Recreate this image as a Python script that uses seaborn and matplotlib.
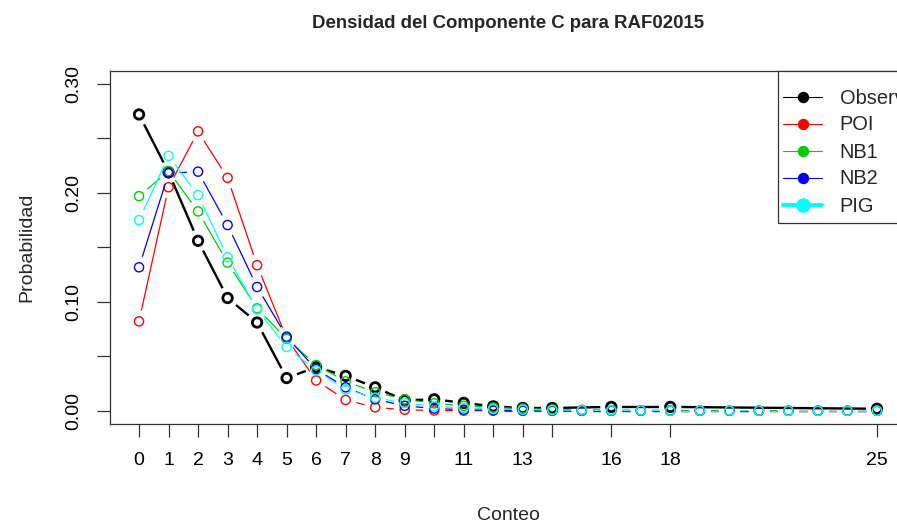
import numpy as np
import pandas as pd
import seaborn as sns
import matplotlib
matplotlib.use("Agg")
import matplotlib.pyplot as plt
from matplotlib.collections import LineCollection
from matplotlib.lines import Line2D
from matplotlib.patches import Rectangle

# Observed counts and their relative frequencies
x_obs = [0, 1, 2, 3, 4, 5, 6, 7, 8, 9, 10, 11, 12, 13, 14, 16, 18, 25]
observado = [0.272, 0.219, 0.156, 0.1035, 0.081, 0.030, 0.040, 0.032, 0.0215,
             0.0095, 0.0105, 0.0072, 0.004, 0.0025, 0.0025, 0.0035, 0.0035, 0.0018]

# Fitted densities for every count 0..25
x_fit = list(range(26))
poi = [0.0821, 0.2052, 0.2565, 0.2138, 0.1336, 0.0668, 0.0278, 0.0099, 0.0031,
       0.0009, 0.0002, 0.0001, 0, 0, 0, 0, 0, 0, 0, 0, 0, 0, 0, 0, 0, 0]
nb1 = [0.197, 0.220, 0.183, 0.136, 0.094, 0.066, 0.042, 0.027, 0.017, 0.0105,
       0.0068, 0.0045, 0.003, 0.002, 0.0013, 0.0009, 0.0006, 0.0004, 0.0003,
       0.0002, 0.0001, 0.0001, 0, 0, 0, 0]
nb2 = [0.1317, 0.218, 0.2195, 0.1705, 0.1136, 0.068, 0.038, 0.0215, 0.0105,
       0.0045, 0.002, 0.001, 0.0005, 0.0002, 0.0001, 0, 0, 0, 0, 0, 0, 0, 0,
       0, 0, 0]
pig = [0.175, 0.234, 0.198, 0.141, 0.093, 0.0585, 0.037, 0.0196, 0.012, 0.007,
       0.004, 0.0025, 0.0015, 0.001, 0.0006, 0.0004, 0.0003, 0.0002, 0.0001,
       0.0001, 0.0001, 0, 0, 0, 0, 0]

# Tick positions on the count axis and the labels that are printed
x_ticks = [0, 1, 2, 3, 4, 5, 6, 7, 8, 9, 10, 11, 12, 13, 14, 16, 18, 25]
x_tick_labels = ["0", "1", "2", "3", "4", "5", "6", "7", "8", "9", "", "11",
                 "", "13", "", "16", "18", "25"]
y_ticks = [0.00, 0.05, 0.10, 0.15, 0.20, 0.25, 0.30]
y_tick_labels = ["0.00", "", "0.10", "", "0.20", "", "0.30"]

legend_labels = ["Observado", "POI", "NB1", "NB2", "PIG"]
colors = ["black", "#FF0000", "#00CD00", "#0000FF", "#00FFFF"]

sns.set_theme(style="white")
plt.rcParams["font.family"] = ["Liberation Sans", "DejaVu Sans"]

W, H = 897, 525
fig = plt.figure(figsize=(W / 100, H / 100), dpi=100)
left, right, top, bottom = 109.5, 906.5, 70.9, 423.8
ax_w, ax_h = right - left, bottom - top
ax = fig.add_axes([left / W, 1 - bottom / H, ax_w / W, ax_h / H])
ax.set_xlim(-1, 26)
ax.set_ylim(-0.012, 0.312)
fig.canvas.draw()

GAP = 11.0  # pixels left blank around each point on the connecting lines


def gapped_segments(xs, ys):
    pts = ax.transData.transform(np.column_stack([xs, ys]))
    inv = ax.transData.inverted()
    segs = []
    for p0, p1 in zip(pts[:-1], pts[1:]):
        d = p1 - p0
        L = np.hypot(*d)
        if L <= 2 * GAP:
            continue
        u = d / L
        a, b = p0 + u * GAP, p1 - u * GAP
        segs.append(inv.transform(np.array([a, b])))
    return segs


series = [
    (x_obs, observado, colors[0], 1.7, 2.0, 6.8),
    (x_fit, poi, colors[1], 0.9, 1.0, 6.6),
    (x_fit, nb1, colors[2], 0.9, 1.0, 6.6),
    (x_fit, nb2, colors[3], 0.9, 1.0, 6.6),
    (x_fit, pig, colors[4], 0.9, 1.0, 6.6),
]

z = 2
for xs, ys, col, lw, mew, ms in series:
    lc = LineCollection(gapped_segments(xs, ys), colors=col, linewidths=lw,
                        zorder=z, capstyle="butt")
    ax.add_collection(lc)
    df = pd.DataFrame({"x": xs, "y": ys})
    sns.scatterplot(data=df, x="x", y="y", ax=ax, marker="o", s=ms ** 2,
                    facecolors="none", edgecolors=col, linewidths=mew,
                    zorder=z + 0.5, legend=False)
    z += 1

ax.set_xlim(-1, 26)
ax.set_ylim(-0.012, 0.312)
ax.set_xticks(x_ticks)
ax.set_xticklabels(x_tick_labels)
ax.set_yticks(y_ticks)
ax.set_yticklabels(y_tick_labels, rotation=90, va="center")
ax.tick_params(axis="both", which="both", direction="out", length=9.4,
               width=0.9, color="#333333", labelsize=14,
               bottom=True, left=True, labelcolor="black")
ax.tick_params(axis="x", pad=11.2)
ax.tick_params(axis="y", pad=10.3)
for sp in ax.spines.values():
    sp.set_visible(True)
    sp.set_color("#333333")
    sp.set_linewidth(0.9)

ax.set_xlabel("Conteo", fontsize=14, va="baseline")
ax.xaxis.set_label_coords(0.5, (bottom - 520) / ax_h)
ax.set_ylabel("Probabilidad", fontsize=14, va="baseline", ha="center",
              rotation=90, rotation_mode="anchor")
ax.yaxis.set_label_coords((31.5 - left) / ax_w, 0.5)

fig.text((left + right) / 2 / W, 1 - 28.3 / H,
         "Densidad del Componente C para RAF02015",
         ha="center", va="baseline", fontsize=13.4, fontweight="bold")

# Legend box in the top-right corner of the plotting region
fig.patches.append(Rectangle((777.5 / W, 1 - 222.7 / H), (W + 20 - 777.5) / W,
                             (222.7 - top) / H, transform=fig.transFigure,
                             facecolor="white", edgecolor="#333333",
                             linewidth=0.9, zorder=5))

handles = [
    Line2D([], [], color=colors[0], lw=0.8, marker="o", ms=7.2),
    Line2D([], [], color=colors[1], lw=0.8, marker="o", ms=7.2),
    Line2D([], [], color=colors[2], lw=0.8, marker="o", ms=7.2),
    Line2D([], [], color=colors[3], lw=0.8, marker="o", ms=7.2),
    Line2D([], [], color=colors[4], lw=2.9, marker="o", ms=9.5),
]
leg = fig.legend(handles, legend_labels, loc="upper left",
                 bbox_to_anchor=(783 / W, 1 - 88.5 / H), fontsize=14.4,
                 frameon=False, handlelength=1.95, handletextpad=0.88,
                 labelspacing=0.40, borderpad=0, borderaxespad=0)
leg.set_zorder(6)

fig.savefig("out.png", dpi=100)
